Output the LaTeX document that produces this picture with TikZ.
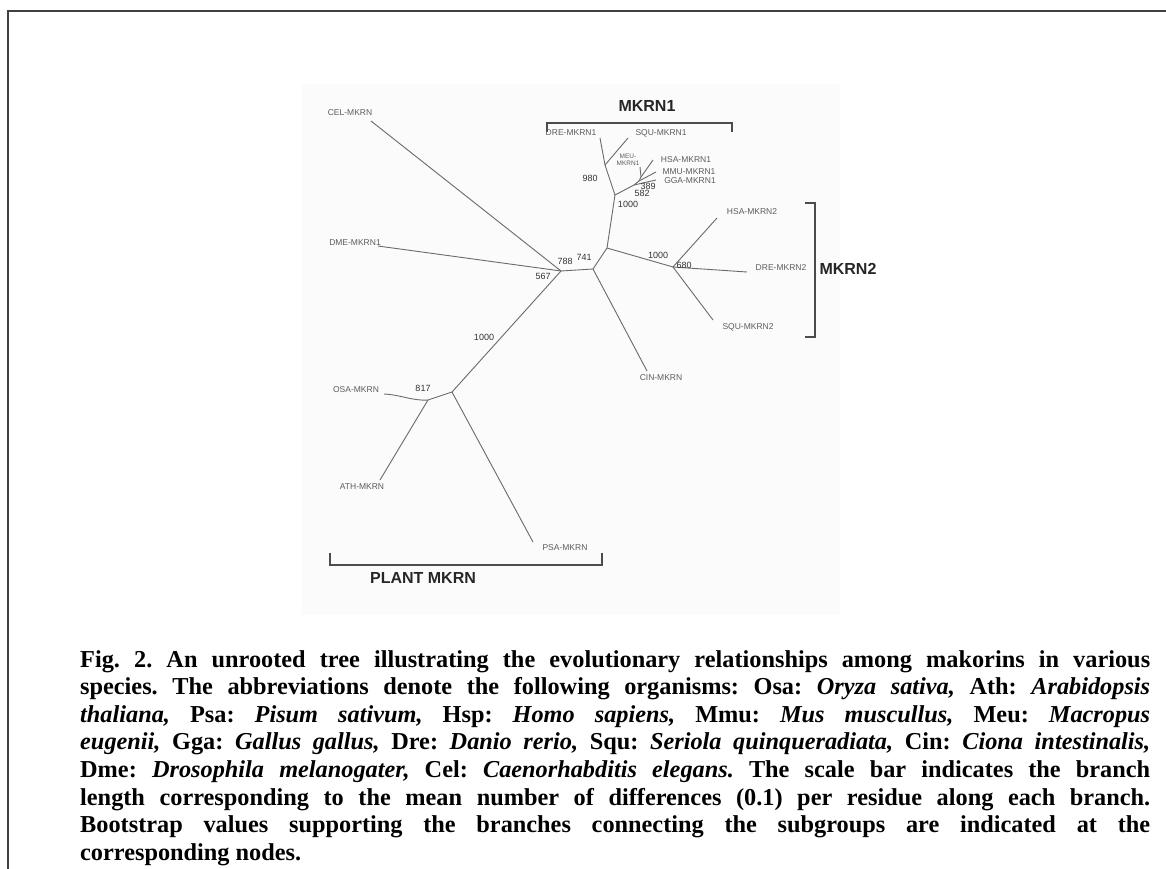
\documentclass[tikz,border=0pt]{standalone}
\usepackage{fontspec}
\setmainfont{Liberation Serif}
\newfontfamily\lsans{Liberation Sans}
\definecolor{brc}{HTML}{6A6A6A}
\definecolor{lblc}{HTML}{5C5C5C}
\tikzset{
  branch/.style={draw=brc, line width=0.9pt},
  tiplbl/.style={font=\lsans\fontsize{8.5}{9}\selectfont, text=lblc, inner sep=0pt},
  boot/.style={font=\lsans\fontsize{9}{10}\selectfont, text=black!80, inner sep=0pt},
  grplbl/.style={font=\lsans\bfseries\fontsize{16}{18}\selectfont, text=black!85, inner sep=0pt},
  brk/.style={draw=black!70, line width=2.2pt},
  frame/.style={draw=black!75, line width=1.6pt}
}
\begin{document}
\frenchspacing
\begin{tikzpicture}[x=1pt,y=-1pt]
\useasboundingbox (0,0) rectangle (1166,869);
\fill[black!1.5] (302,84) rectangle (840,615);
\draw[frame] (8,869) -- (8,11) -- (1166,11);

% internal nodes
\coordinate (A) at (561,271);
\coordinate (B) at (593,269);
\coordinate (C) at (607,248);
\coordinate (D) at (673,267);
\coordinate (E) at (615,195);
\coordinate (F) at (605,165);
\coordinate (N1) at (634,185);
\coordinate (N2) at (639,181);
\coordinate (N3) at (641,177);
\coordinate (G) at (452,392);
\coordinate (H) at (428,400);
% tips
\coordinate (tCEL) at (371,121);
\coordinate (tDME) at (378,246);
\coordinate (tCIN) at (647,371);
\coordinate (tHSAb) at (717,218);
\coordinate (tDREb) at (747,272);
\coordinate (tSQUb) at (713,320);
\coordinate (tDREa) at (600,138);
\coordinate (tSQUa) at (628,138);
\coordinate (tMEU) at (640,167);
\coordinate (tHSAa) at (653,160);
\coordinate (tMMU) at (656,172);
\coordinate (tGGA) at (656,180);
\coordinate (tOSA) at (384,394);
\coordinate (tATH) at (380,480);
\coordinate (tPSA) at (533,542);

\draw[branch] (tCEL) -- (A);
\draw[branch] (tDME) -- (A);
\draw[branch] (A) -- (B);
\draw[branch] (B) -- (tCIN);
\draw[branch] (B) -- (C);
\draw[branch] (C) -- (E);
\draw[branch] (C) -- (D);
\draw[branch] (D) -- (tHSAb);
\draw[branch] (D) -- (tDREb);
\draw[branch] (D) -- (tSQUb);
\draw[branch] (E) -- (F);
\draw[branch] (F) -- (tDREa);
\draw[branch] (F) -- (tSQUa);
\draw[branch] (E) -- (N1);
\draw[branch] (N1) -- (tGGA);
\draw[branch] (N1) -- (N2);
\draw[branch] (N2) -- (tMMU);
\draw[branch] (N2) -- (N3);
\draw[branch] (N3) -- (tHSAa);
\draw[branch] (N3) -- (tMEU);
\draw[branch] (A) -- (G);
\draw[branch] (G) -- (tPSA);
\draw[branch] (G) -- (H);
\draw[branch] (tOSA) .. controls (402,395) and (412,401) .. (H);
\draw[branch] (H) -- (tATH);

% tip labels
\node[tiplbl] (lCEL) at (350,113) {CEL-MKRN};
\node[tiplbl] (lDME) at (355,243) {DME-MKRN1};
\node[tiplbl] (lCIN) at (661,378) {CIN-MKRN};
\node[tiplbl] (lHSAb) at (752,212) {HSA-MKRN2};
\node[tiplbl] (lDREb) at (781,268) {DRE-MKRN2};
\node[tiplbl] (lSQUb) at (748,327) {SQU-MKRN2};
\node[tiplbl] (lDREa) at (571,133) {DRE-MKRN1};
\node[tiplbl] (lSQUa) at (661,133) {SQU-MKRN1};
\node[tiplbl, font=\lsans\fontsize{6.5}{7}\selectfont, align=center] (lMEU) at (628,160) {MEU-\\MKRN1};
\node[tiplbl] (lHSAa) at (686,160) {HSA-MKRN1};
\node[tiplbl] (lMMU) at (689,172) {MMU-MKRN1};
\node[tiplbl] (lGGA) at (690,181) {GGA-MKRN1};
\node[tiplbl] (lOSA) at (356,390) {OSA-MKRN};
\node[tiplbl] (lATH) at (362,487) {ATH-MKRN};
\node[tiplbl] (lPSA) at (565,548) {PSA-MKRN};

% bootstrap values
\node[boot] (b980) at (590,178) {980};
\node[boot] (b389) at (648,186) {389};
\node[boot] (b582) at (642,193) {582};
\node[boot] (b1000a) at (628,204) {1000};
\node[boot] (b788) at (565,261) {788};
\node[boot] (b741) at (584,257) {741};
\node[boot] (b567) at (543,276) {567};
\node[boot] (b1000b) at (658,255) {1000};
\node[boot] (b680) at (684,265) {680};
\node[boot] (b1000c) at (484,337) {1000};
\node[boot] (b817) at (423,388) {817};

% group brackets
\draw[brk] (547,132) -- (547,123) -- (732,123) -- (732,132);
\node[grplbl] (gM1) at (647,106) {MKRN1};
\draw[brk] (805,203) -- (815,203) -- (815,337) -- (805,337);
\node[grplbl] (gM2) at (848,269) {MKRN2};
\draw[brk] (330,553) -- (330,565) -- (602,565) -- (602,553);
\node[grplbl] (gPL) at (423,578) {PLANT MKRN};

% caption
\node[anchor=north west, inner sep=0pt, text width=1070pt, align=justify,
      font=\bfseries\fontsize{24.3}{27.6}\selectfont] (cap) at (80,650) {%
Fig. 2. An unrooted tree illustrating the evolutionary relationships among makorins in various\linebreak
species. The abbreviations denote the following organisms: Osa: \textit{Oryza sativa,} Ath: \textit{Arabidopsis}\linebreak
\textit{thaliana,} Psa: \textit{Pisum sativum,} Hsp: \textit{Homo sapiens,} Mmu: \textit{Mus muscullus,} Meu: \textit{Macropus}\linebreak
\textit{eugenii,} Gga: \textit{Gallus gallus,} Dre: \textit{Danio rerio,} Squ: \textit{Seriola quinqueradiata,} Cin: \textit{Ciona intestinalis,}\linebreak
Dme: \textit{Drosophila melanogater,} Cel: \textit{Caenorhabditis elegans.} The scale bar indicates the branch\linebreak
length corresponding to the mean number of differences (0.1) per residue along each branch.\linebreak
Bootstrap values supporting the branches connecting the subgroups are indicated at the\linebreak
corresponding nodes.};
\end{tikzpicture}
\end{document}
